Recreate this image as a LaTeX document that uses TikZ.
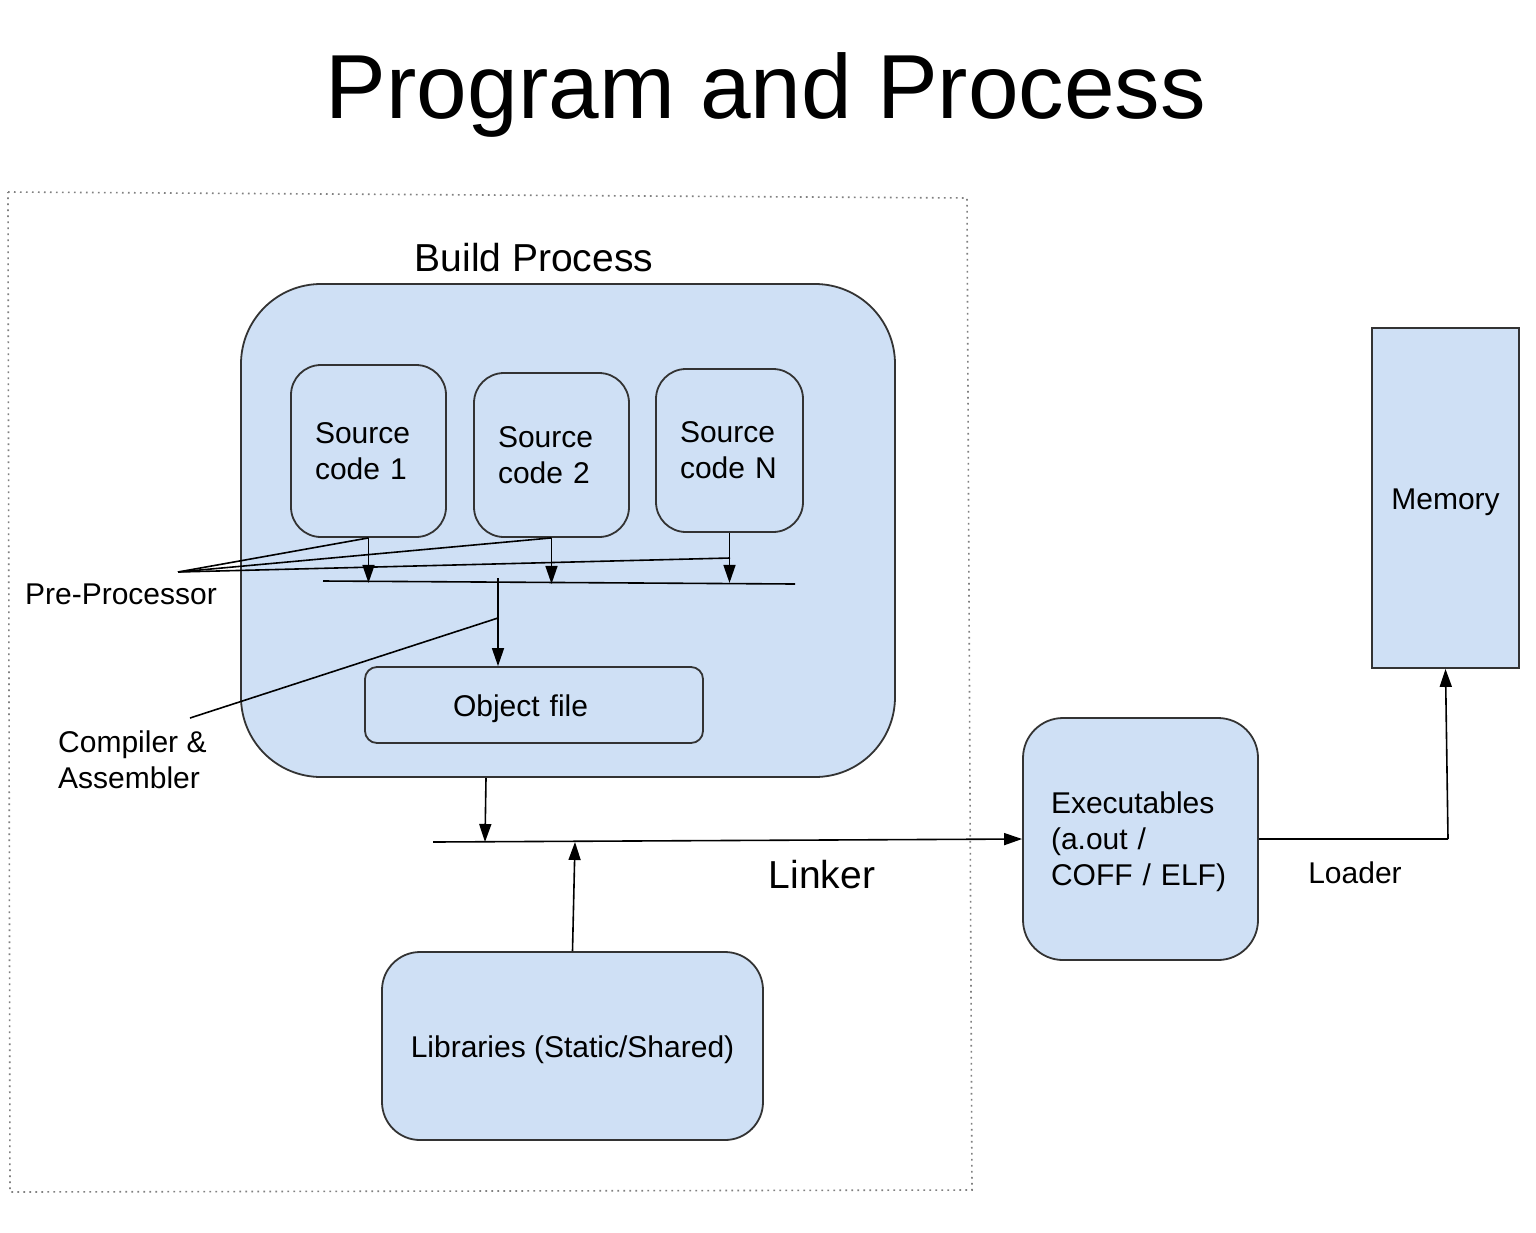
\documentclass[tikz,border=0pt]{standalone}
\usepackage{fontspec}
\setmainfont{Liberation Sans}
\usetikzlibrary{arrows.meta}
\definecolor{boxfill}{HTML}{CFE0F5}
\definecolor{edge}{HTML}{333333}
\definecolor{dotc}{HTML}{808080}
\begin{document}
\begin{tikzpicture}[x=1pt,y=-1pt,
 box/.style={draw=edge, fill=boxfill, line width=1.8pt, inner sep=0pt, align=left, font=\fontsize{30}{36}\selectfont},
 conn/.style={draw=black, line width=1.6pt},
 arr/.style={conn, -{Triangle[length=18pt,width=12pt]}},
 lbl/.style={inner sep=0pt, font=\fontsize{30}{36}\selectfont, align=left},
 biglbl/.style={inner sep=0pt, font=\fontsize{39}{46}\selectfont}]
\useasboundingbox (0,0) rectangle (1536,1232);

% title
\node[inner sep=0pt, font=\fontsize{91}{100}\selectfont, anchor=base] (title) at (766,118) {Program and Process};

% dotted frame
\draw[dotc, line width=1.6pt, dash pattern=on 1.6pt off 4.4pt] (8,192) -- (967,198) -- (972,1190) -- (10,1192) -- cycle;

% build process
\node[biglbl, anchor=base] (buildlbl) at (534,271) {Build Process};
\node[box, rounded corners=80pt, minimum width=654pt, minimum height=493pt] (build) at (568,530.5) {};

\node[box, rounded corners=30pt, minimum width=155pt, minimum height=172pt, text width=107pt] (s1) at (368.5,451) {Source\\code 1};
\node[box, rounded corners=30pt, minimum width=155pt, minimum height=164pt, text width=107pt] (s2) at (551.5,455) {Source\\code 2};
\node[box, rounded corners=30pt, minimum width=147pt, minimum height=163pt, text width=99pt] (sN) at (729.5,450.5) {Source\\code N};
\node[box, rounded corners=12pt, minimum width=338pt, minimum height=76pt, text width=162pt, text height=29pt] (obj) at (534,705) {Object file};

% pre-processor bar
\coordinate (pl) at (323,581);
\coordinate (pr) at (795,584);
\draw[conn] (pl) -- (pr);
\draw[arr] (s1.south) -- ++(0,45);
\draw[arr] (s2.south) -- ++(0,46);
\draw[arr] (sN.south) -- ++(0,50);

\coordinate (pp) at (178,572);
\coordinate (sNm) at (730,558);
\draw[conn] (pp) -- (s1.south);
\draw[conn] (pp) -- (s2.south);
\draw[conn] (pp) -- (sNm);
\node[lbl, anchor=base] (pplbl) at (121,604) {Pre-Processor};

% compiler
\coordinate (ct) at (498,578);
\draw[arr] (ct) -- (ct |- obj.north);
\coordinate (cc) at (190,718);
\coordinate (cm) at (498,618);
\draw[conn] (cc) -- (cm);
\node[lbl, anchor=north west] (cclbl) at (58,731) {Compiler \&\\Assembler};

% libraries and executables
\node[box, rounded corners=38pt, minimum width=381pt, minimum height=188pt, align=center, text height=30pt] (lib) at (572.5,1046) {Libraries (Static/Shared)};
\node[box, rounded corners=40pt, minimum width=235pt, minimum height=242pt, text width=179pt] (exe) at (1140.5,839) {\rule{0pt}{28pt}Executables\\(a.out /\\COFF / ELF)};
\node[box, minimum width=147pt, minimum height=340pt, align=center, text height=30pt] (mem) at (1445.5,498) {Memory};

% linker
\coordinate (ll) at (433,842);
\draw[arr] (ll) -- (exe.west);
\coordinate (bo) at (486,778);
\coordinate (bi) at (485,842);
\draw[arr] (bo) -- (bi);
\coordinate (li) at (575,842);
\draw[arr] (lib.north) -- (li);
\node[biglbl, anchor=base] (linklbl) at (822,888) {Linker};

% loader
\coordinate (lc) at (1448,839);
\draw[conn] (exe.east) -- (lc);
\draw[arr] (lc) -- (mem.south);
\node[lbl, anchor=base] (loadlbl) at (1355,883) {Loader};
\end{tikzpicture}
\end{document}
